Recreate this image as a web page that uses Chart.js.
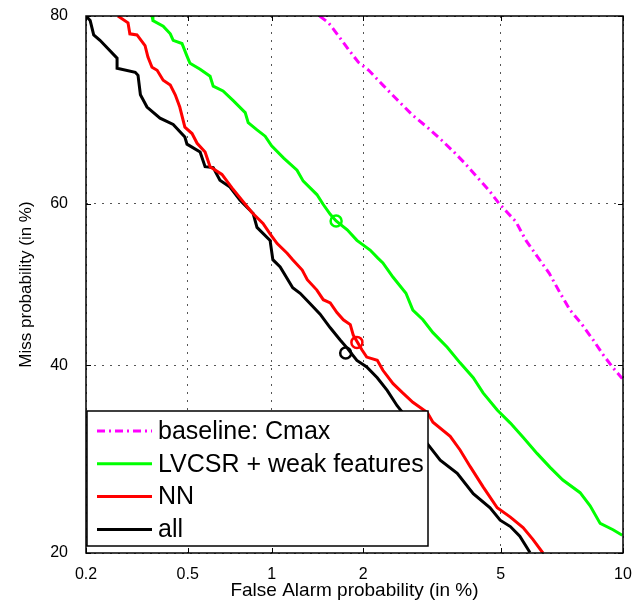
<!DOCTYPE html>
<html>
<head>
<meta charset="utf-8">
<script src="https://cdn.jsdelivr.net/npm/chart.js@4/dist/chart.umd.min.js"></script>
<style>
  html, body { margin: 0; padding: 0; background: #fff; }
  #wrap { width: 636px; height: 604px; }
</style>
</head>
<body>
<div id="wrap"><canvas id="c" width="636" height="604"></canvas></div>
<script>
// ---- Data (percent) ----
const X_TICKS = [0.2, 0.5, 1, 2, 5, 10];
const Y_TICKS = [20, 40, 60, 80];

const baselineFA   = [1.45, 1.55, 1.68, 1.80, 1.93, 2.08, 2.30, 2.52, 2.83, 3.14, 3.42, 3.72, 3.97, 4.29, 4.65, 4.95, 5.48, 5.82, 6.18, 6.67, 7.14, 7.51, 8.03, 8.53, 9.00, 9.49, 9.96];
const baselineMiss = [80.0, 79.4, 78.1, 76.9, 75.7, 74.9, 73.4, 72.0, 70.2, 68.8, 67.5, 66.1, 64.9, 63.3, 61.6, 60.0, 57.8, 55.5, 53.7, 51.4, 48.7, 46.8, 45.0, 43.1, 41.3, 39.7, 38.4];

const lvcsrFA   = [0.366, 0.369, 0.404, 0.43, 0.441, 0.476, 0.497, 0.51, 0.556, 0.605, 0.621, 0.674, 0.732, 0.809, 0.829, 0.89, 0.95, 1.0, 1.10, 1.22, 1.28, 1.42, 1.49, 1.57, 1.64, 1.78, 1.91, 2.10, 2.22, 2.30, 2.47, 2.70, 2.83, 3.03, 3.24, 3.56, 3.87, 4.21, 4.48, 4.89, 5.30, 5.72, 6.22, 6.71, 7.21, 7.94, 8.39, 8.86, 9.49, 9.96];
const lvcsrMiss = [80.0, 79.6, 79.1, 78.4, 77.8, 77.5, 76.3, 75.6, 75.0, 74.3, 73.3, 72.8, 71.8, 70.5, 69.4, 68.6, 67.9, 66.8, 65.4, 64.0, 62.7, 61.1, 59.9, 58.7, 57.9, 56.8, 55.5, 54.3, 53.3, 52.7, 50.9, 48.9, 46.8, 45.6, 44.0, 42.2, 40.3, 38.5, 36.7, 34.7, 33.2, 31.6, 29.8, 28.3, 27.0, 25.7, 24.4, 22.7, 22.1, 21.6];

const nnFA   = [0.269, 0.295, 0.30, 0.32, 0.344, 0.353, 0.366, 0.383, 0.404, 0.43, 0.449, 0.467, 0.488, 0.519, 0.542, 0.58, 0.605, 0.668, 0.726, 0.789, 0.856, 0.934, 0.988, 1.045, 1.13, 1.18, 1.27, 1.32, 1.42, 1.49, 1.57, 1.65, 1.73, 1.82, 1.86, 1.98, 2.05, 2.21, 2.30, 2.47, 2.64, 2.83, 3.12, 3.24, 3.63, 3.87, 4.13, 4.48, 4.89, 5.30, 5.72, 6.07, 6.43];
const nnMiss = [80.0, 79.4, 78.4, 78.3, 77.3, 76.2, 75.2, 74.9, 73.9, 73.4, 72.4, 71.1, 68.9, 68.2, 67.1, 66.1, 64.4, 63.5, 61.9, 60.4, 58.9, 57.6, 56.3, 55.1, 53.9, 53.1, 51.8, 50.6, 49.3, 48.1, 47.7, 46.5, 45.6, 45.0, 43.7, 41.9, 41.0, 40.6, 39.4, 37.8, 36.7, 35.6, 34.4, 33.3, 31.7, 30.2, 28.4, 26.3, 24.2, 23.3, 22.3, 21.2, 20.0];

const allFA   = [0.2, 0.208, 0.215, 0.228, 0.267, 0.267, 0.315, 0.323, 0.33, 0.35, 0.393, 0.441, 0.488, 0.497, 0.556, 0.58, 0.621, 0.657, 0.714, 0.776, 0.863, 0.89, 0.988, 1.01, 1.07, 1.18, 1.25, 1.35, 1.455, 1.57, 1.69, 1.78, 1.91, 2.05, 2.21, 2.37, 2.54, 3.12, 3.40, 3.80, 4.21, 4.68, 4.98, 5.30, 5.61, 5.96];
const allMiss = [80.0, 79.6, 78.3, 77.8, 76.1, 75.1, 74.7, 74.4, 72.4, 71.1, 69.9, 69.2, 67.8, 67.0, 66.1, 64.4, 64.3, 62.8, 62.0, 60.4, 58.8, 57.1, 55.5, 53.1, 52.2, 49.6, 48.9, 47.6, 46.3, 44.6, 43.1, 42.1, 40.6, 39.8, 38.5, 37.0, 35.2, 30.9, 29.1, 27.7, 25.6, 24.2, 23.0, 22.4, 21.5, 20.05];

// operating points (circles)
const lvcsrOpFA = [1.64], lvcsrOpMiss = [57.9];
const nnOpFA = [1.91], nnOpMiss = [42.8];
const allOpFA = [1.76], allOpMiss = [41.5];

const LABELS = ['baseline: Cmax', 'LVCSR + weak features', 'NN', 'all'];
const COLORS = ['#ff00ff', '#00ff00', '#ff0000', '#000000'];

// ---- inverse normal CDF (Acklam) and normal CDF ----
function probit(p) {
  const a = [-3.969683028665376e+01, 2.209460984245205e+02, -2.759285104469687e+02, 1.383577518672690e+02, -3.066479806614716e+01, 2.506628277459239e+00];
  const b = [-5.447609879822406e+01, 1.615858368580409e+02, -1.556989798598866e+02, 6.680131188771972e+01, -1.328068155288572e+01];
  const c = [-7.784894002430293e-03, -3.223964580411365e-01, -2.400758277161838e+00, -2.549732539343734e+00, 4.374664141464968e+00, 2.938163982698783e+00];
  const d = [7.784695709041462e-03, 3.224671290700398e-01, 2.445134137142996e+00, 3.754408661907416e+00];
  const pl = 0.02425, ph = 1 - pl;
  let q, r;
  if (p < pl) { q = Math.sqrt(-2 * Math.log(p)); return (((((c[0]*q+c[1])*q+c[2])*q+c[3])*q+c[4])*q+c[5]) / ((((d[0]*q+d[1])*q+d[2])*q+d[3])*q+1); }
  if (p <= ph) { q = p - 0.5; r = q*q; return (((((a[0]*r+a[1])*r+a[2])*r+a[3])*r+a[4])*r+a[5])*q / (((((b[0]*r+b[1])*r+b[2])*r+b[3])*r+b[4])*r+1); }
  q = Math.sqrt(-2 * Math.log(1 - p));
  return -(((((c[0]*q+c[1])*q+c[2])*q+c[3])*q+c[4])*q+c[5]) / ((((d[0]*q+d[1])*q+d[2])*q+d[3])*q+1);
}
function normcdf(x) {
  const t = 1 / (1 + 0.2316419 * Math.abs(x));
  const d = 0.3989423 * Math.exp(-x * x / 2);
  let p = d * t * (0.3193815 + t * (-0.3565638 + t * (1.781478 + t * (-1.821256 + t * 1.330274))));
  return x > 0 ? 1 - p : p;
}

// ---- Custom probit (normal deviate) scale, values in percent ----
class ProbitScale extends Chart.Scale {
  determineDataLimits() {
    const mm = this.getMinMax(true);
    this.min = this.options.min != null ? this.options.min : mm.min;
    this.max = this.options.max != null ? this.options.max : mm.max;
  }
  buildTicks() { return []; }
  getLabelForValue(v) { return String(v); }
  configure() {
    super.configure();
    this._lo = probit(this.min / 100);
    this._hi = probit(this.max / 100);
  }
  getPixelForValue(v) {
    return this.getPixelForDecimal((probit(v / 100) - this._lo) / (this._hi - this._lo));
  }
  getValueForPixel(px) {
    const dec = this.getDecimalForPixel(px);
    return normcdf(this._lo + dec * (this._hi - this._lo)) * 100;
  }
}
ProbitScale.id = 'probit';
ProbitScale.defaults = {};
Chart.register(ProbitScale);

const pts = (xs, ys) => xs.map((x, i) => ({ x: x, y: ys[i] }));

const FONT = '"Liberation Sans", Arial, sans-serif';

// frame, inner ticks and legend
const framePlugin = {
  id: 'frame',
  beforeDatasetsDraw(chart) {
    const { ctx, chartArea: a, scales } = chart;
    ctx.save();
    ctx.strokeStyle = '#000';
    ctx.lineWidth = 1;
    const L = 5;
    scales.x.ticks.forEach(t => {
      const px = Math.round(scales.x.getPixelForValue(t.value)) + 0.5;
      ctx.beginPath();
      ctx.moveTo(px, a.bottom); ctx.lineTo(px, a.bottom - L);
      ctx.moveTo(px, a.top); ctx.lineTo(px, a.top + L);
      ctx.stroke();
    });
    scales.y.ticks.forEach(t => {
      const py = Math.round(scales.y.getPixelForValue(t.value)) + 0.5;
      ctx.beginPath();
      ctx.moveTo(a.left, py); ctx.lineTo(a.left + L, py);
      ctx.moveTo(a.right, py); ctx.lineTo(a.right - L, py);
      ctx.stroke();
    });
    ctx.restore();
  },
  afterDatasetsDraw(chart) {
    const { ctx, chartArea: a } = chart;
    ctx.save();
    // frame
    ctx.strokeStyle = '#000';
    ctx.lineWidth = 1.5;
    ctx.strokeRect(a.left, a.top, a.right - a.left, a.bottom - a.top);

    // legend box
    const bx = a.left + 1, by = 411, bw = 341, bh = 135;
    ctx.fillStyle = '#fff';
    ctx.fillRect(bx, by, bw, bh);
    ctx.lineWidth = 1.5;
    ctx.strokeStyle = '#000';
    ctx.strokeRect(bx, by, bw, bh);

    ctx.font = '25px ' + FONT;
    ctx.textBaseline = 'middle';
    ctx.textAlign = 'left';
    const ds = chart.data.datasets.filter(d => d.legend);
    ds.forEach((d, i) => {
      const y = by + 20 + i * 32.8;
      ctx.beginPath();
      ctx.strokeStyle = d.borderColor;
      ctx.lineWidth = 3;
      ctx.setLineDash(d.borderDash || []);
      ctx.moveTo(bx + 10, y); ctx.lineTo(bx + 65, y);
      ctx.stroke();
      ctx.setLineDash([]);
      ctx.fillStyle = '#000';
      ctx.fillText(d.label, bx + 71, y + 1);
    });
    ctx.restore();
  }
};

const lineDs = (label, xs, ys, color, dash) => ({
  label: label, legend: true,
  data: pts(xs, ys),
  borderColor: color, backgroundColor: color,
  borderWidth: 3, borderDash: dash || [],
  pointRadius: 0, tension: 0, fill: false, showLine: true
});
const opDs = (xs, ys, color) => ({
  label: '', legend: false,
  data: pts(xs, ys),
  borderColor: color, backgroundColor: 'rgba(0,0,0,0)',
  showLine: false, pointRadius: 5.5, pointBorderWidth: 2.5, pointStyle: 'circle'
});

new Chart(document.getElementById('c'), {
  type: 'scatter',
  data: {
    datasets: [
      lineDs(LABELS[0], baselineFA, baselineMiss, COLORS[0], [8, 4, 2, 4]),
      lineDs(LABELS[1], lvcsrFA, lvcsrMiss, COLORS[1]),
      lineDs(LABELS[2], nnFA, nnMiss, COLORS[2]),
      lineDs(LABELS[3], allFA, allMiss, COLORS[3]),
      opDs(lvcsrOpFA, lvcsrOpMiss, COLORS[1]),
      opDs(nnOpFA, nnOpMiss, COLORS[2]),
      opDs(allOpFA, allOpMiss, COLORS[3])
    ]
  },
  options: {
    responsive: false,
    animation: false,
    events: [],
    layout: { padding: { top: 16, right: 13, left: 0, bottom: 0 } },
    plugins: { legend: { display: false }, tooltip: { enabled: false } },
    scales: {
      x: {
        type: 'probit', position: 'bottom',
        min: 0.2, max: 10,
        afterBuildTicks: s => { s.ticks = X_TICKS.map(v => ({ value: v })); },
        afterFit: s => { s.height = 51; s.paddingLeft = 0; s.paddingRight = 0; },
        grid: { color: '#555', lineWidth: 1, drawTicks: false },
        border: { display: false, dash: [2, 6] },
        ticks: { color: '#000', font: { family: FONT, size: 16 }, padding: 12, maxRotation: 0, autoSkip: false },
        title: { display: true, text: 'False Alarm probability (in %)', color: '#000', font: { family: FONT, size: 19 }, padding: { top: 0, bottom: 2 } }
      },
      y: {
        type: 'probit', position: 'left',
        min: 20, max: 80,
        afterBuildTicks: s => { s.ticks = Y_TICKS.map(v => ({ value: v })); },
        afterFit: s => { s.width = 86; s.paddingTop = 0; s.paddingBottom = 0; },
        grid: { color: '#555', lineWidth: 1, drawTicks: false },
        border: { display: false, dash: [2, 6] },
        ticks: { color: '#000', font: { family: FONT, size: 16 }, padding: 18, autoSkip: false },
        title: { display: true, text: 'Miss probability (in %)', color: '#000', font: { family: FONT, size: 17 }, padding: { top: 16, bottom: 0 } }
      }
    }
  },
  plugins: [framePlugin]
});
</script>
</body>
</html>
